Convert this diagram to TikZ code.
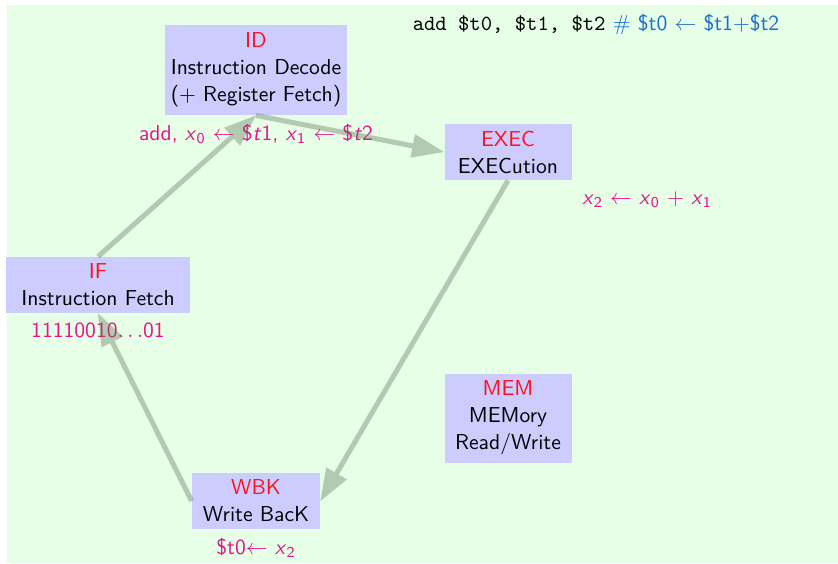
\documentclass[tikz,border=0pt]{standalone}
\usetikzlibrary{arrows.meta,positioning}
\renewcommand{\familydefault}{\sfdefault}
\definecolor{BgGreen}{HTML}{E6FFE6}
\definecolor{StageBlue}{HTML}{CCCCFF}
\definecolor{StageRed}{HTML}{FF1020}
\definecolor{NotePink}{HTML}{E6148C}
\definecolor{CodeBlue}{HTML}{1C70D0}
\definecolor{FlowGray}{HTML}{5C7058}
% sans italic variables with subscripts
\newcommand{\var}[2]{\textit{#1}\textsubscript{#2}}

\tikzset{
  stage/.style={fill=StageBlue,align=center,inner sep=0pt,
                minimum height=28pt},
  note/.style={text=NotePink,inner sep=1pt},
  flow/.style={line width=2.5pt,draw=FlowGray,opacity=0.37,
               -{Triangle[length=16pt,width=12pt,line width=0pt]}}
}

\begin{document}
\begin{tikzpicture}[x=0.5pt,y=-0.5pt,font=\fontsize{10.8}{13.5}\selectfont]
    \useasboundingbox (0,0) rectangle (838,563);
    \fill[BgGreen] (7,5) rectangle (838,563);

    % pipeline stages
    \node[stage,minimum width=91pt,minimum height=45pt] (id) at (256,70)
      {\color{StageRed}ID\\Instruction Decode\\(+ Register Fetch)};
    \node[stage,minimum width=63.5pt] (exec) at (508,152)
      {\color{StageRed}EXEC\\EXECution};
    \node[stage,minimum width=92pt] (if) at (98,285)
      {\color{StageRed}IF\\Instruction Fetch};
    \node[stage,minimum width=64pt] (wbk) at (256,501)
      {\color{StageRed}WBK\\Write BacK};
    \node[stage,minimum width=63.5pt,minimum height=44.5pt] (mem) at (508,418)
      {\color{StageRed}MEM\\MEMory\\Read/Write};

    % what each stage does
    \node[note,below=3pt of id] (idnote)
      {add, \var{x}{0} $\leftarrow$ \$\textit{t}1, \var{x}{1} $\leftarrow$ \$\textit{t}2};
    \node[note,below=3.5pt of if] (ifnote) {11110010$\ldots$01};
    \node[note,below=3pt of wbk] (wbknote) {\$t0$\leftarrow$ \var{x}{2}};
    \node[note,below right=4.5pt and 4pt of exec.south east] (execnote)
      {\var{x}{2} $\leftarrow$ \var{x}{0} $+$ \var{x}{1}};

    % the instruction
    \node (instr) at (596,24)
      {\texttt{add \$t0, \$t1, \$t2} {\color{CodeBlue}\# \$t0 $\leftarrow$ \$t1+\$t2}};

    % flow between stages
    \draw[flow] (if.north) -- (id.south);
    \draw[flow] (id.south) -- (exec.west);
    \draw[flow] (exec.south) -- (wbk.east);
    \draw[flow] (wbk.west) -- (if.south);
  \end{tikzpicture}
\end{document}
